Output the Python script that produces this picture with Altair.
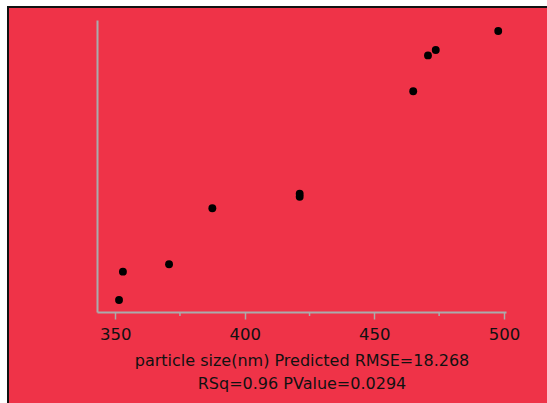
import altair as alt
import pandas as pd

# Predicted particle size (nm) on x, actual particle size on y
predicted = [351.5, 353.0, 370.8, 387.5, 421.2, 421.2, 465.0, 470.7, 473.7, 497.8]
actual = [347.0, 363.5, 367.8, 400.4, 408.9, 407.1, 468.5, 489.4, 492.5, 503.6]
minor_ticks = [375, 425, 475]
title_lines = ["particle size(nm) Predicted RMSE=18.268", "RSq=0.96 PValue=0.0294"]

df = pd.DataFrame({"predicted": predicted, "actual": actual})
minor_df = pd.DataFrame({"t": minor_ticks})

W, H = 409, 292
FONT = "DejaVu Sans"
AXIS_GRAY = "#ababab"

x_scale = alt.Scale(domain=[343, 500.8], nice=False, zero=False)
y_scale = alt.Scale(domain=[340, 510], nice=False, zero=False)

# red panel with a black frame, extending beyond the window on the right/bottom
panel = alt.Chart(pd.DataFrame({"a": [0]})).mark_rect(
    fill="#ef3348", stroke="#111111", strokeWidth=2
).encode(
    x=alt.value(-89), x2=alt.value(470),
    y=alt.value(-13), y2=alt.value(420),
)

points = alt.Chart(df).mark_circle(size=62, color="black", opacity=1).encode(
    x=alt.X(
        "predicted:Q",
        scale=x_scale,
        axis=alt.Axis(
            values=[350, 400, 450, 500],
            title=title_lines,
            titleFont=FONT,
            titleFontSize=16,
            titleFontWeight="normal",
            titleColor="#111111",
            titlePadding=10,
            titleLineHeight=23,
            labelFont=FONT,
            labelFontSize=16.5,
            labelColor="#111111",
            labelPadding=7,
            domainColor=AXIS_GRAY,
            domainWidth=2,
            tickColor=AXIS_GRAY,
            tickWidth=1.5,
            tickSize=7,
            grid=False,
            zindex=1,
        ),
    ),
    y=alt.Y(
        "actual:Q",
        scale=y_scale,
        axis=alt.Axis(
            title=None, labels=False, ticks=False, grid=False,
            domainColor=AXIS_GRAY, domainWidth=2, zindex=1,
        ),
    ),
)

minor = alt.Chart(minor_df).mark_rule(color=AXIS_GRAY, strokeWidth=1.5).encode(
    x=alt.X("t:Q", scale=x_scale),
    y=alt.value(H),
    y2=alt.value(H + 4),
)

chart = alt.layer(panel, minor, points).properties(
    width=W, height=H,
    autosize=alt.AutoSizeParams(type="none"),
    padding={"left": 97, "top": 20, "right": 41, "bottom": 91},
    background="white",
).configure_view(stroke=None)

chart.save("out.html", embed_options={"renderer": "svg", "actions": False})
